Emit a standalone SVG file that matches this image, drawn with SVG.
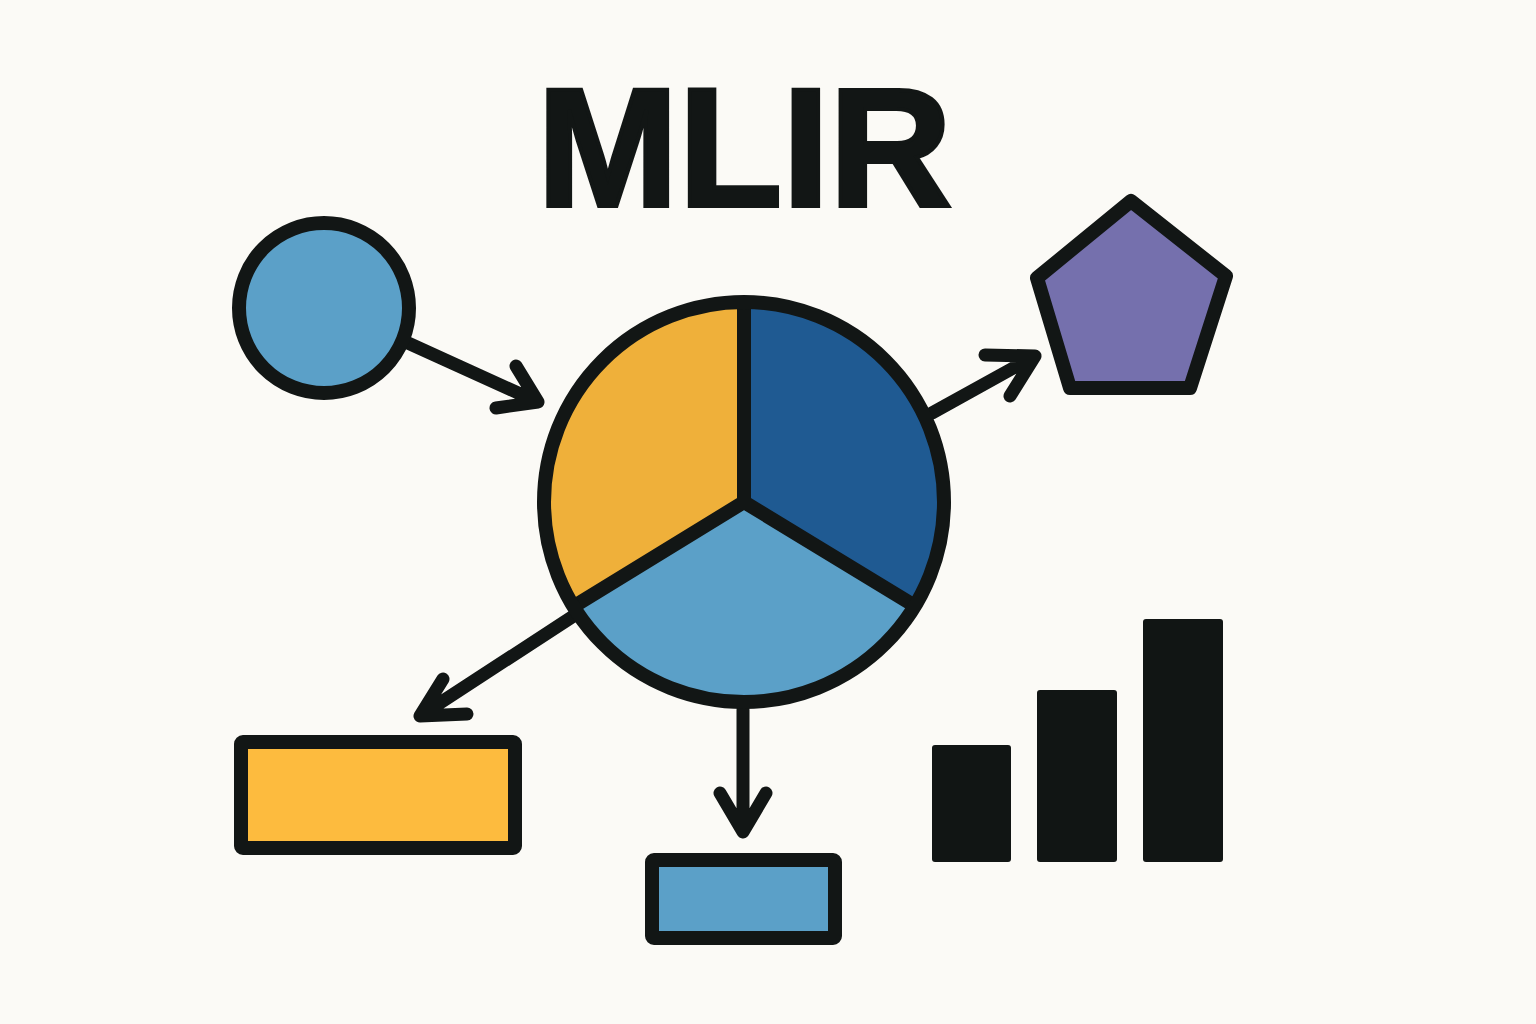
<svg xmlns="http://www.w3.org/2000/svg" width="1536" height="1024" viewBox="0 0 1536 1024">
<style>
.ol{stroke:#121615;stroke-width:14;stroke-linejoin:round;stroke-linecap:round}
.ar{fill:none;stroke:#121615;stroke-width:13;stroke-linecap:round;stroke-linejoin:round}
.bar{fill:#111514}
.title{font-family:"Liberation Sans",Arial,sans-serif;font-weight:bold;font-size:168px;fill:#121615;stroke:#121615;stroke-width:4;stroke-linejoin:miter}
</style>
<rect width="1536" height="1024" fill="#FBFAF6"/>
<text class="title" x="537" y="206" textLength="415" lengthAdjust="spacingAndGlyphs">MLIR</text>
<g id="connectors">
<path class="ar" d="M408 343 L538 402 M516 366 L538 402 L496 408"/>
<path class="ar" d="M932 413 L1035 356 M985 355 L1035 356 L1010 396"/>
<path class="ar" d="M575 615 L420 716 M443 679 L420 716 L467 714"/>
<path class="ar" d="M743 710 L743 832 M720 793 L743 832 L766 793"/>
</g>
<g id="source-circle">
<circle class="ol" cx="324" cy="308" r="85" fill="#5BA0C8"/>
</g>
<g id="pie">
<circle cx="744" cy="502" r="200" fill="#5BA0C8"/>
<path d="M744 502 L744 302 A200 200 0 0 0 571 602 Z" fill="#EFB03A"/>
<path d="M744 502 L744 302 A200 200 0 0 1 917 602 Z" fill="#1F5A92"/>
<path class="ar" style="stroke-width:14" d="M744 306 L744 502 L576 605 M744 502 L910 603"/>
<circle class="ol" cx="744" cy="502" r="200" fill="none"/>
</g>
<g id="pentagon">
<path class="ol" d="M1131 201 L1226 276 L1190 388 L1070 388 L1037 278 Z" fill="#7570AD"/>
</g>
<g id="yellow-rect">
<rect class="ol" x="241" y="742" width="274" height="106" rx="2" fill="#FDBB3E"/>
</g>
<g id="blue-rect">
<rect class="ol" x="652" y="860" width="183" height="78" rx="2" fill="#5BA0C8"/>
</g>
<g id="bar-chart">
<rect class="bar" x="932" y="745" width="79" height="117" rx="3"/>
<rect class="bar" x="1037" y="690" width="80" height="172" rx="3"/>
<rect class="bar" x="1143" y="619" width="80" height="243" rx="3"/>
</g>
</svg>
